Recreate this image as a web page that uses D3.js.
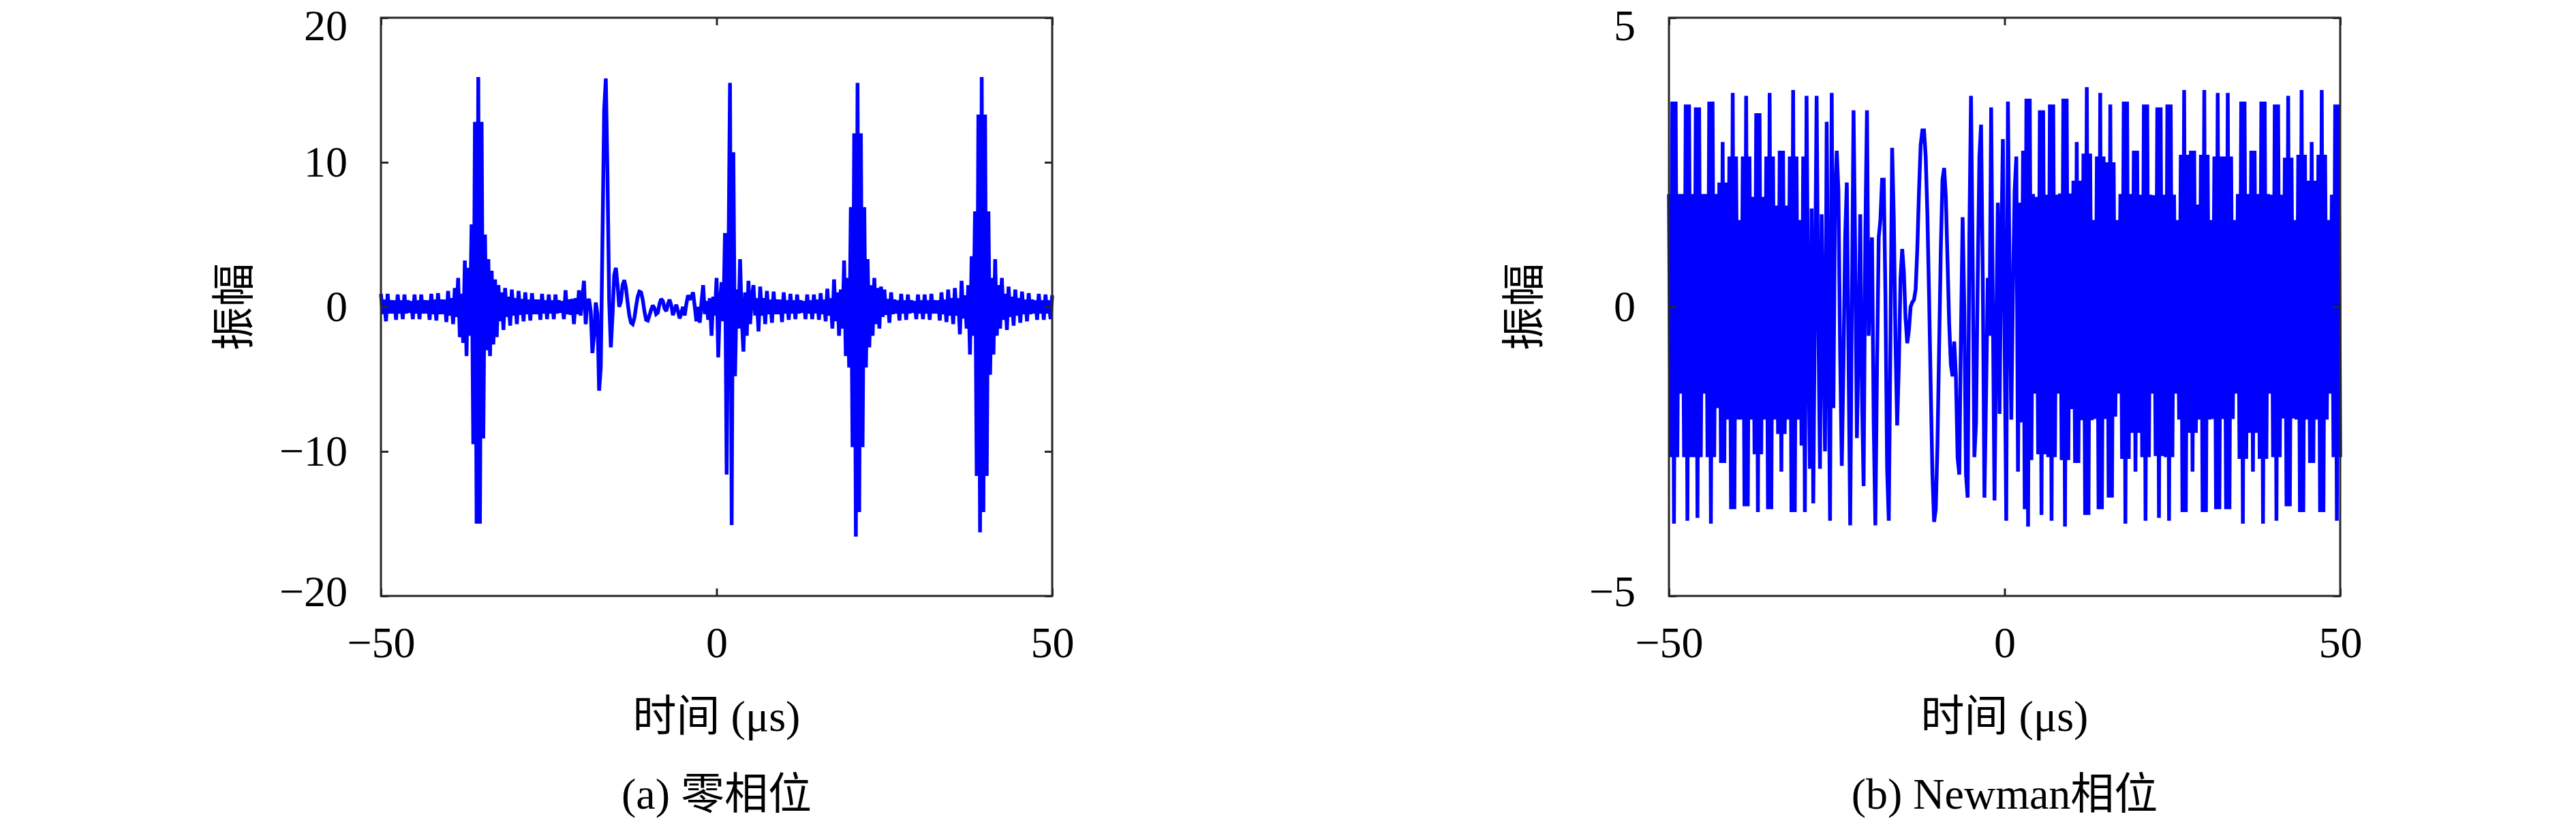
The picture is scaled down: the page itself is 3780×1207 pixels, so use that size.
<!DOCTYPE html>
<html>
<head>
<meta charset="utf-8">
<script src="https://cdn.jsdelivr.net/npm/d3@7"></script>
<style>
html, body { margin: 0; padding: 0; background: #fff; }
svg { display: block; }
</style>
</head>
<body>
<svg id="chart"></svg>
<script>
const width = 3780;
const height = 1207;

// sampling grid of both waveforms (µs)
const startTime = -50;
const sampleStep = 0.25;

const timeDomain = [-50, 50];
const timeTicks = [-50, 0, 50];
const zeroTicks = [-20, -10, 0, 10, 20];
const newmanTicks = [-5, 0, 5];
const xLabel = '时间 (μs)';
const yLabel = '振幅';
const captions = ['(a) 零相位', '(b) Newman相位'];

// (a) zero phase, one row = 5 µs
const zeroPhase = [
  0.9,-0.5,0.5,-1.0,0.9,-0.45,0.45,-0.45,0.45,-0.9,0.85,-0.45,0.45,-0.85,0.85,-0.45,0.45,-0.4,0.4,-0.85,
  0.85,-0.45,0.45,-0.85,0.85,-0.45,0.45,-0.45,0.45,-0.9,0.9,-0.5,0.5,-0.95,0.95,-0.5,0.5,-0.5,0.5,-1.05,
  1.1,-0.6,0.6,-1.2,1.3,-0.7,2.0,-2.1,0.9,-2.5,3.2,-3.4,2.7,-2.0,5.7,-9.5,12.8,-15.0,15.9,-15.0,
  12.8,-9.1,5.0,-3.0,3.3,-3.4,2.5,-2.6,1.9,-2.1,1.5,-1.0,1.0,-1.6,1.3,-0.7,0.7,-1.3,1.2,-0.6,
  0.6,-1.2,1.1,-0.55,0.55,-1.0,1.0,-0.5,0.5,-0.95,0.95,-0.5,0.5,-0.5,0.5,-0.9,0.9,-0.45,0.45,-0.85,
  0.85,-0.45,0.45,-0.85,0.85,-0.45,0.45,-0.4,0.4,-0.85,1.15,-0.5,0.5,-0.55,0.55,-1.2,0.6,-0.5,1.15,-0.6,
  0.6,1.8,-1.2,0.3,0.55,-0.3,-3.2,-2.0,0.3,-0.5,-5.8,-4.2,4.7,13.6,15.8,9.1,0.4,-2.8,-0.6,2.2,
  2.7,1.5,0.0,0.4,1.5,1.85,1.3,0.3,-0.6,-1.1,-1.2,-0.8,0.0,0.7,1.05,1.0,0.5,-0.3,-0.9,-0.95,
  -0.6,-0.2,0.1,-0.1,-0.5,-0.4,0.2,0.55,0.4,-0.1,-0.3,0.2,0.5,0.1,-0.58,-0.2,0.15,-0.3,-0.8,-0.4,
  0.0,-0.6,0.2,0.8,0.5,0.7,1.0,0.0,-1.0,0.0,-1.1,0.3,1.5,-0.5,0.4,-0.9,0.6,-2.0,0.7,-0.6,
  2.0,-3.5,0.3,1.7,-1.0,5.1,-11.6,2.0,15.5,-15.1,10.7,-4.8,1.2,-1.5,3.3,-0.8,-3.1,1.0,-2.0,1.8,
  -1.2,0.6,1.5,-0.6,0.6,-1.7,1.4,-0.6,0.6,-1.2,1.1,-0.5,0.5,-1.1,1.05,-0.5,0.5,-0.5,0.5,-1.05,
  1.0,-0.45,0.45,-0.9,0.9,-0.45,0.45,-0.85,0.85,-0.45,0.45,-0.4,0.4,-0.85,0.85,-0.45,0.45,-0.85,0.85,-0.45,
  0.5,-0.9,0.95,-0.5,0.5,-1.0,1.25,-0.6,0.6,-1.5,1.9,-1.0,1.0,-2.0,1.2,-1.5,3.2,-3.4,2.0,-4.2,
  6.9,-9.7,12.0,-15.9,15.5,-14.2,12.0,-9.7,6.9,-4.2,3.3,-2.8,1.5,-2.0,2.0,-1.2,1.3,-1.5,1.4,-0.7,
  1.2,-0.55,0.55,-1.1,1.0,-0.5,0.5,-0.45,0.45,-0.95,0.9,-0.45,0.45,-0.9,0.85,-0.45,0.45,-0.4,0.4,-0.85,
  0.85,-0.45,0.45,-0.85,0.85,-0.45,0.45,-0.9,0.9,-0.45,0.45,-0.45,0.45,-0.95,1.0,-0.5,0.5,-1.05,1.2,-0.6,
  0.6,-1.2,1.3,-0.6,0.6,-1.9,1.8,-0.8,0.8,-1.5,1.5,-3.3,3.5,-2.0,6.6,-11.7,13.3,-15.6,15.9,-14.2,
  13.3,-11.7,6.6,-4.7,2.0,-3.3,3.3,-2.0,1.5,-1.5,2.0,-0.9,0.9,-1.6,1.4,-0.7,0.7,-1.3,1.2,-0.6,
  0.6,-1.1,1.05,-0.5,0.5,-1.0,0.95,-0.5,0.5,-0.45,0.45,-0.9,0.9,-0.45,0.45,-0.9,0.85,-0.45,0.45,-0.85,
  0.8
];

// (b) Newman phase, one row = 5 µs
const newmanPhase = [
  1.95,-2.6,3.55,-3.75,3.55,-2.6,1.95,-1.5,1.95,-2.6,3.5,-3.7,3.5,-2.6,1.95,-2.6,3.45,-3.65,3.45,-2.6,
  1.95,-1.5,1.95,-2.6,3.55,-3.75,3.55,-2.6,1.95,-1.75,2.15,-2.7,2.85,-2.7,2.15,-1.95,2.6,-3.5,3.7,-3.5,
  2.6,-1.95,1.5,-1.95,2.6,-3.45,3.65,-3.45,2.6,-1.95,1.9,-2.55,3.35,-3.55,3.35,-2.55,1.9,-1.95,2.6,-3.5,
  3.7,-3.5,2.6,-1.95,1.75,-2.2,2.7,-2.85,2.7,-2.2,1.75,-1.95,2.6,-3.55,3.75,-3.55,2.6,-1.95,1.5,-2.4,
  2.6,-3.55,3.65,-0.5,-2.8,1.7,-3.4,0.2,3.65,-0.2,-2.8,1.6,-0.5,-2.5,3.2,-0.5,-3.7,3.7,-1.75,1.9,
  2.7,2.0,-0.8,-2.75,-1.0,1.2,2.15,-0.8,-3.78,0.0,3.4,0.9,-2.27,-0.6,1.6,-1.5,-3.1,1.2,3.4,-0.5,
  0.6,1.2,-2.0,-3.78,-1.0,1.2,1.5,2.2,2.2,0.2,-2.8,-3.7,-0.5,2.75,1.5,-0.6,-2.05,-1.0,0.5,1.0,
  0.6,-0.2,-0.63,-0.4,0.0,0.08,0.12,0.3,1.0,2.0,2.8,3.05,3.05,2.6,1.6,0.2,-1.4,-2.9,-3.72,-3.5,
  -2.4,-0.7,1.0,2.2,2.4,1.9,0.8,-0.3,-1.0,-1.2,-0.6,-1.2,-2.6,-2.9,-0.5,1.55,0.0,-2.9,-3.3,1.2,
  3.65,0.8,-2.6,-2.0,0.5,2.6,3.15,0.5,-3.3,-1.5,0.5,-0.5,3.45,0.0,-3.35,-0.5,1.8,-1.85,1.0,2.9,
  -0.5,-3.7,3.55,0.5,-1.95,0.3,2.0,2.6,-2.85,1.8,-2.0,2.7,-3.5,3.6,-3.8,3.6,-2.65,1.95,-1.5,1.9,
  -2.55,3.4,-3.6,3.4,-2.55,1.94,-2.6,3.5,-3.7,3.5,-2.6,1.94,-1.5,1.96,-2.65,3.6,-3.8,3.6,-2.65,1.96,
  -1.77,2.18,-2.7,2.85,-2.7,2.18,-1.96,2.65,-3.6,3.8,-3.6,2.65,-1.96,1.5,-1.94,2.6,-3.5,3.7,-3.5,2.6,
  -1.94,2.5,-3.3,3.5,-3.3,2.5,-1.9,1.5,-1.5,1.95,-2.63,3.55,-3.75,3.55,-2.63,1.95,-2.18,2.7,-2.85,2.7,
  -2.18,1.94,-2.6,3.5,-3.7,3.5,-2.6,1.94,-1.5,1.93,-2.58,3.45,-3.65,3.45,-2.58,1.94,-2.6,3.5,-3.7,3.5,
  -2.6,1.94,-1.5,1.5,-1.95,2.63,-3.55,3.75,-3.55,2.63,-2.18,2.7,-2.85,2.7,-2.18,1.77,-1.95,2.63,-3.55,3.75,
  -3.55,2.63,-1.95,1.5,-1.94,2.6,-3.5,3.7,-3.5,2.6,-1.94,2.6,-3.5,3.7,-3.5,2.6,-1.94,1.5,-1.5,1.95,
  -2.63,3.55,-3.75,3.55,-2.63,1.95,-2.18,2.7,-2.85,2.7,-2.18,1.95,-2.63,3.55,-3.75,3.55,-2.63,1.95,-1.5,1.94,
  -2.6,3.5,-3.7,3.5,-2.6,1.94,-1.93,2.58,-3.45,3.65,-3.45,2.58,-1.93,1.5,-1.95,2.63,-3.55,3.75,-3.55,2.63,
  -1.95,2.18,-2.7,2.85,-2.7,2.18,-1.95,2.63,-3.55,3.75,-3.55,2.63,-1.95,1.5,-1.5,1.94,-2.6,3.5,-3.7,3.5,
  -2.6
];

const fontFamily = "'Liberation Serif', 'Noto Sans CJK SC', serif";
const fontSize = 64;
const axisColor = '#262626';

const svg = d3.select('#chart')
    .attr('width', width).attr('height', height);
svg.append('rect')
    .attr('width', width).attr('height', height)
    .attr('fill', '#fff');

const plotW = 985;
const plotTop = 26;
const plotBottom = 874;

const panels = [
    {left: 559, values: zeroPhase, domain: [-20, 20], ticks: zeroTicks, caption: captions[0], labelX: 343},
    {left: 2449, values: newmanPhase, domain: [-5, 5], ticks: newmanTicks, caption: captions[1], labelX: 2236}
];

panels.forEach(drawPanel);

function styleAxis(g) {
    g.select('.domain').remove();
    g.selectAll('.tick line')
        .attr('stroke', axisColor)
        .attr('stroke-width', 3);
    g.selectAll('.tick text')
        .attr('fill', '#000')
        .style('font-family', fontFamily)
        .style('font-size', fontSize + 'px');
}

function drawPanel(p) {
    const x = d3.scaleLinear().domain(timeDomain).range([p.left, p.left + plotW]);
    const y = d3.scaleLinear().domain(p.domain).range([plotBottom, plotTop]);
    const g = svg.append('g');

    const line = d3.line()
        .x((d, i) => x(startTime + i * sampleStep))
        .y(d => y(d));

    g.append('path')
        .datum(p.values)
        .attr('d', line)
        .attr('fill', 'none')
        .attr('stroke', '#0000ff')
        .attr('stroke-width', 5.5)
        .attr('stroke-linejoin', 'miter')
        .attr('stroke-miterlimit', 2);

    // ticks point inward on all four sides
    const yAxis = g.append('g')
        .attr('transform', `translate(${p.left},0)`)
        .call(d3.axisLeft(y).tickValues(p.ticks).tickSize(-11).tickPadding(49))
        .call(styleAxis);
    // the end labels sit a little inside the frame
    const lo = p.domain[0], hi = p.domain[1];
    yAxis.selectAll('.tick text')
        .attr('dy', d => d === hi ? '0.5em' : d === lo ? '0.22em' : '0.32em');

    g.append('g')
        .attr('transform', `translate(${p.left + plotW},0)`)
        .call(d3.axisRight(y).tickValues(p.ticks).tickSize(-11).tickFormat(''))
        .call(styleAxis);
    g.append('g')
        .attr('transform', `translate(0,${plotBottom})`)
        .call(d3.axisBottom(x).tickValues(timeTicks).tickSize(-11).tickPadding(45))
        .call(styleAxis);
    g.append('g')
        .attr('transform', `translate(0,${plotTop})`)
        .call(d3.axisTop(x).tickValues(timeTicks).tickSize(-11).tickFormat(''))
        .call(styleAxis);

    g.append('rect')
        .attr('x', p.left).attr('y', plotTop)
        .attr('width', plotW).attr('height', plotBottom - plotTop)
        .attr('fill', 'none')
        .attr('stroke', axisColor)
        .attr('stroke-width', 3);

    const cx = p.left + plotW / 2;
    g.append('text')
        .attr('x', cx).attr('y', 1050)
        .attr('text-anchor', 'middle')
        .attr('dominant-baseline', 'central')
        .style('font-family', fontFamily)
        .style('font-size', fontSize + 'px')
        .text(xLabel);

    g.append('text')
        .attr('transform', `translate(${p.labelX},${(plotTop + plotBottom) / 2}) rotate(-90)`)
        .attr('text-anchor', 'middle')
        .attr('dominant-baseline', 'central')
        .style('font-family', fontFamily)
        .style('font-size', fontSize + 'px')
        .text(yLabel);

    g.append('text')
        .attr('x', cx).attr('y', 1164)
        .attr('text-anchor', 'middle')
        .attr('dominant-baseline', 'central')
        .style('font-family', fontFamily)
        .style('font-size', fontSize + 'px')
        .text(p.caption);
}
</script>
</body>
</html>
